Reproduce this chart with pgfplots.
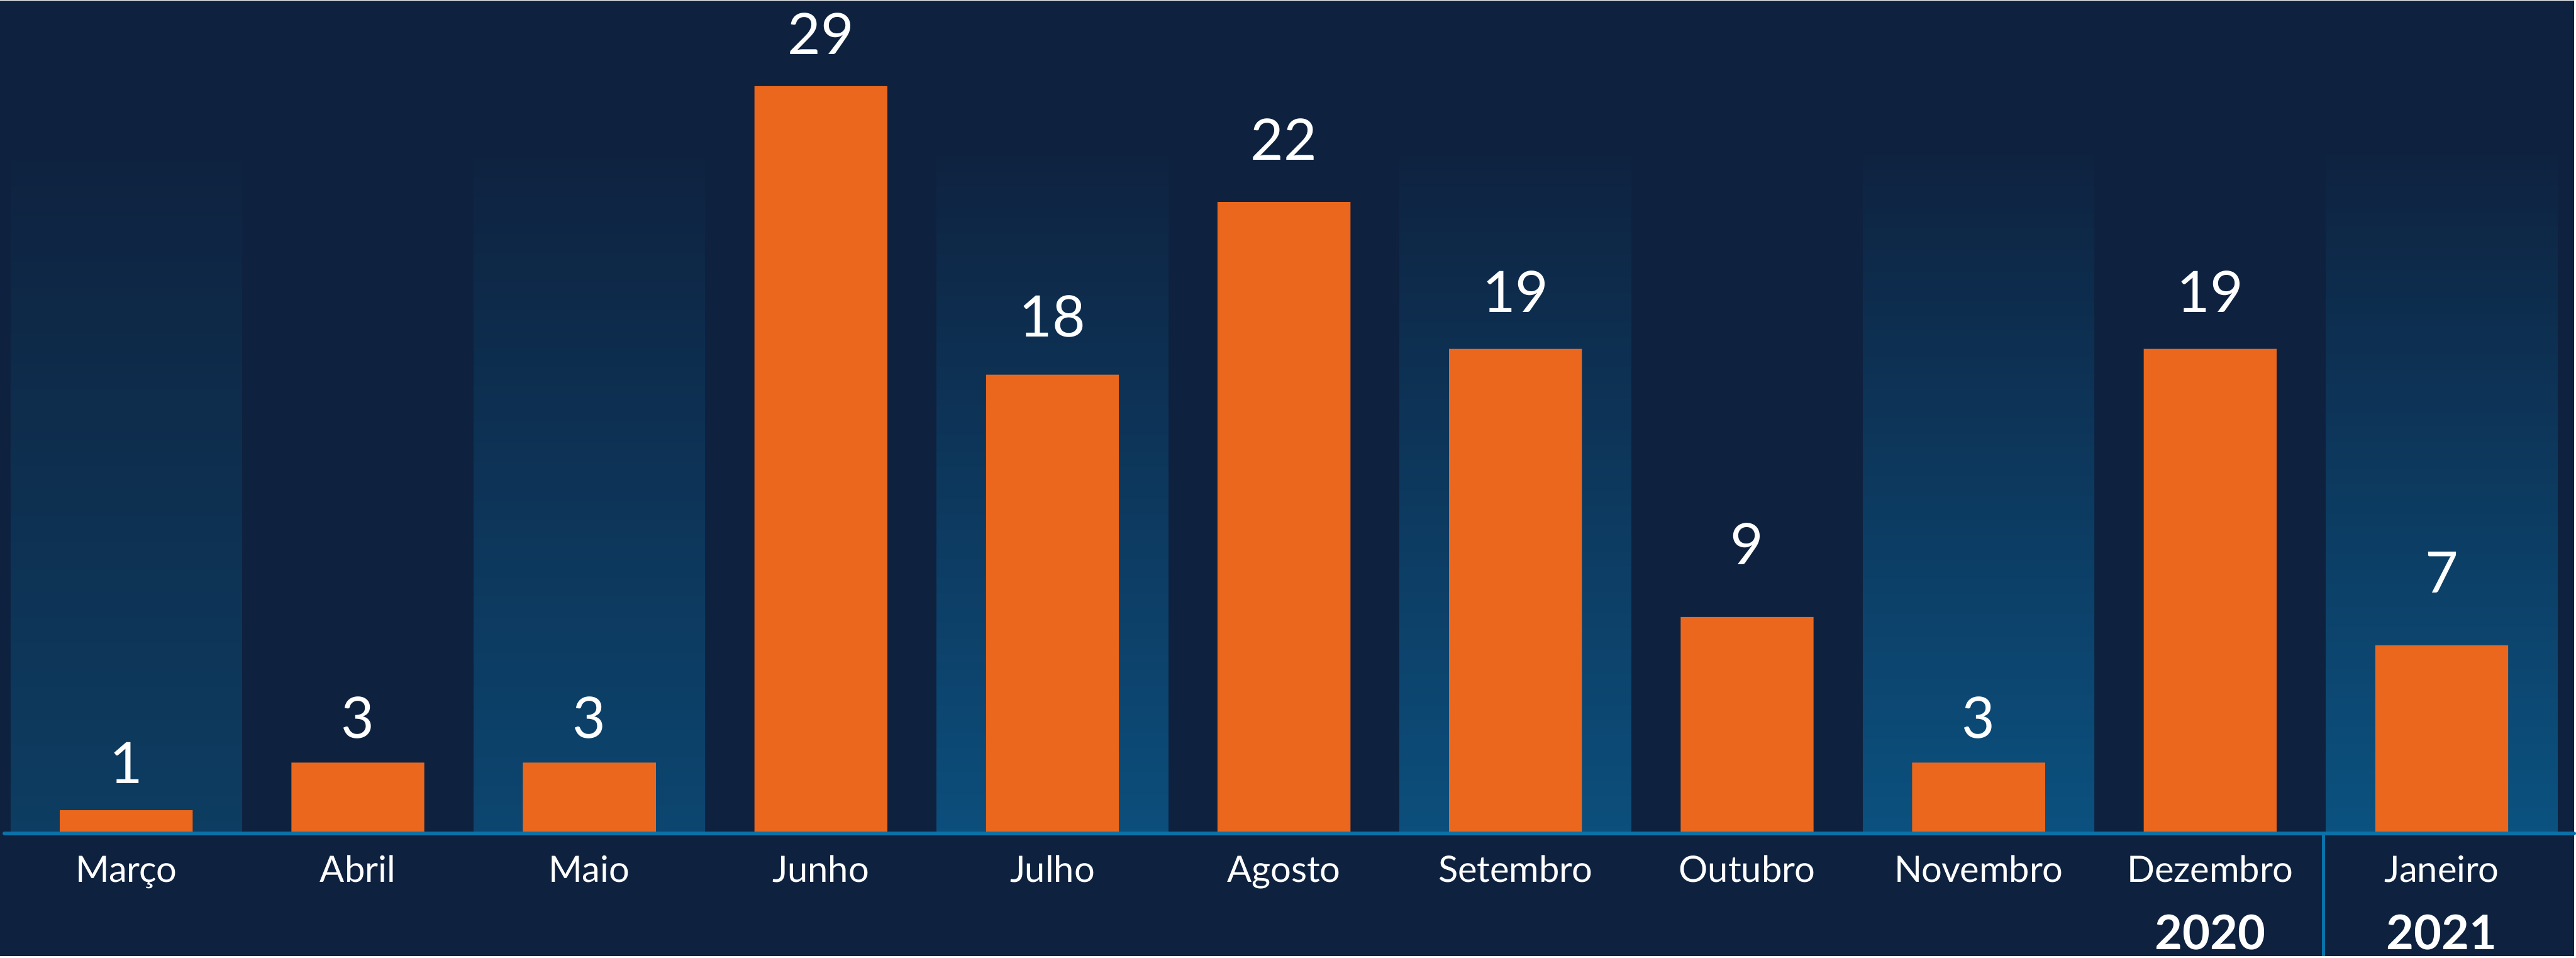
\documentclass[border=0pt]{standalone}
\usepackage{fontspec}
\setmainfont{Lato}
\usepackage{pgfplots}
\pgfplotsset{compat=1.18}
\definecolor{bg}{HTML}{0E223F}
\definecolor{bandA}{HTML}{0D3D62}
\definecolor{bandB}{HTML}{0C4670}
\definecolor{bandC}{HTML}{0C4E7C}
\definecolor{bandD}{HTML}{0C4F7C}
\definecolor{bandE}{HTML}{0B517F}
\definecolor{bandF}{HTML}{0B5280}
\definecolor{barorange}{HTML}{EA671D}
\definecolor{axisblue}{HTML}{0A72A8}
% x: slot, h: drawn bar height, v: printed value, off: label gap (pt)
\pgfplotstableread{
x h v off
0 0.9 1 5.3
1 2.75 3 4.9
2 2.75 3 4.9
3 29 29 6.3
4 17.8 18 7.5
5 24.5 22 8.3
6 18.8 19 7.3
7 8.4 9 10.5
8 2.75 3 4.9
9 18.8 19 7.3
10 7.3 7 10.4
}\datatable
\begin{document}
\begin{tikzpicture}
\begin{axis}[
  scale only axis, width=513.4pt, height=190.6pt,
  xmin=-0.5455, xmax=10.5715, ymin=-4.767, ymax=32.32,
  axis background/.style={fill=bg},
  axis line style={draw=none},
  ytick=\empty,
  xtick={0,...,10},
  xticklabels={Março,Abril,Maio,Junho,Julho,Agosto,Setembro,Outubro,Novembro,Dezembro,Janeiro},
  major tick length=0pt,
  xticklabel style={anchor=base, yshift=14.8pt, text=white, font=\fontsize{7.26}{8}\selectfont, inner sep=0pt},
  /pgf/number format/assume math mode=true,
  clip=false,
]
\addplot[ybar, bar width=1, bar shift=0pt, draw=none, top color=bg, bottom color=bandA] coordinates {(0,26.6)};
\addplot[ybar, bar width=1, bar shift=0pt, draw=none, top color=bg, bottom color=bandB] coordinates {(2,26.6)};
\addplot[ybar, bar width=1, bar shift=0pt, draw=none, top color=bg, bottom color=bandC] coordinates {(4,26.6)};
\addplot[ybar, bar width=1, bar shift=0pt, draw=none, top color=bg, bottom color=bandD] coordinates {(6,26.6)};
\addplot[ybar, bar width=1, bar shift=0pt, draw=none, top color=bg, bottom color=bandE] coordinates {(8,26.6)};
\addplot[ybar, bar width=1, bar shift=0pt, draw=none, top color=bg, bottom color=bandF] coordinates {(10,26.6)};
\addplot[ybar, bar width=0.574, bar shift=0pt, fill=barorange, draw=none,
  point meta=explicit symbolic,
  nodes near coords,
  visualization depends on={\thisrow{off} \as \labeloff},
  nodes near coords style={anchor=base, yshift=\labeloff pt, text=white, inner sep=0pt, font=\fontsize{11.4}{12}\selectfont},
] table[x=x, y=h, meta=v] {\datatable};
\draw[axisblue, line width=0.8pt, line cap=round] (axis cs:-0.526,0) -- (axis cs:10.5715,0);
\draw[axisblue, line width=0.55pt] (axis cs:9.489,0) -- (axis cs:9.489,-4.767);
\node[anchor=base, text=white, inner sep=0pt, font=\bfseries\fontsize{9.5}{10}\selectfont] at (axis cs:9,-4.514) {2020};
\node[anchor=base, text=white, inner sep=0pt, font=\bfseries\fontsize{9.5}{10}\selectfont] at (axis cs:10,-4.514) {2021};
\end{axis}
\end{tikzpicture}
\end{document}
